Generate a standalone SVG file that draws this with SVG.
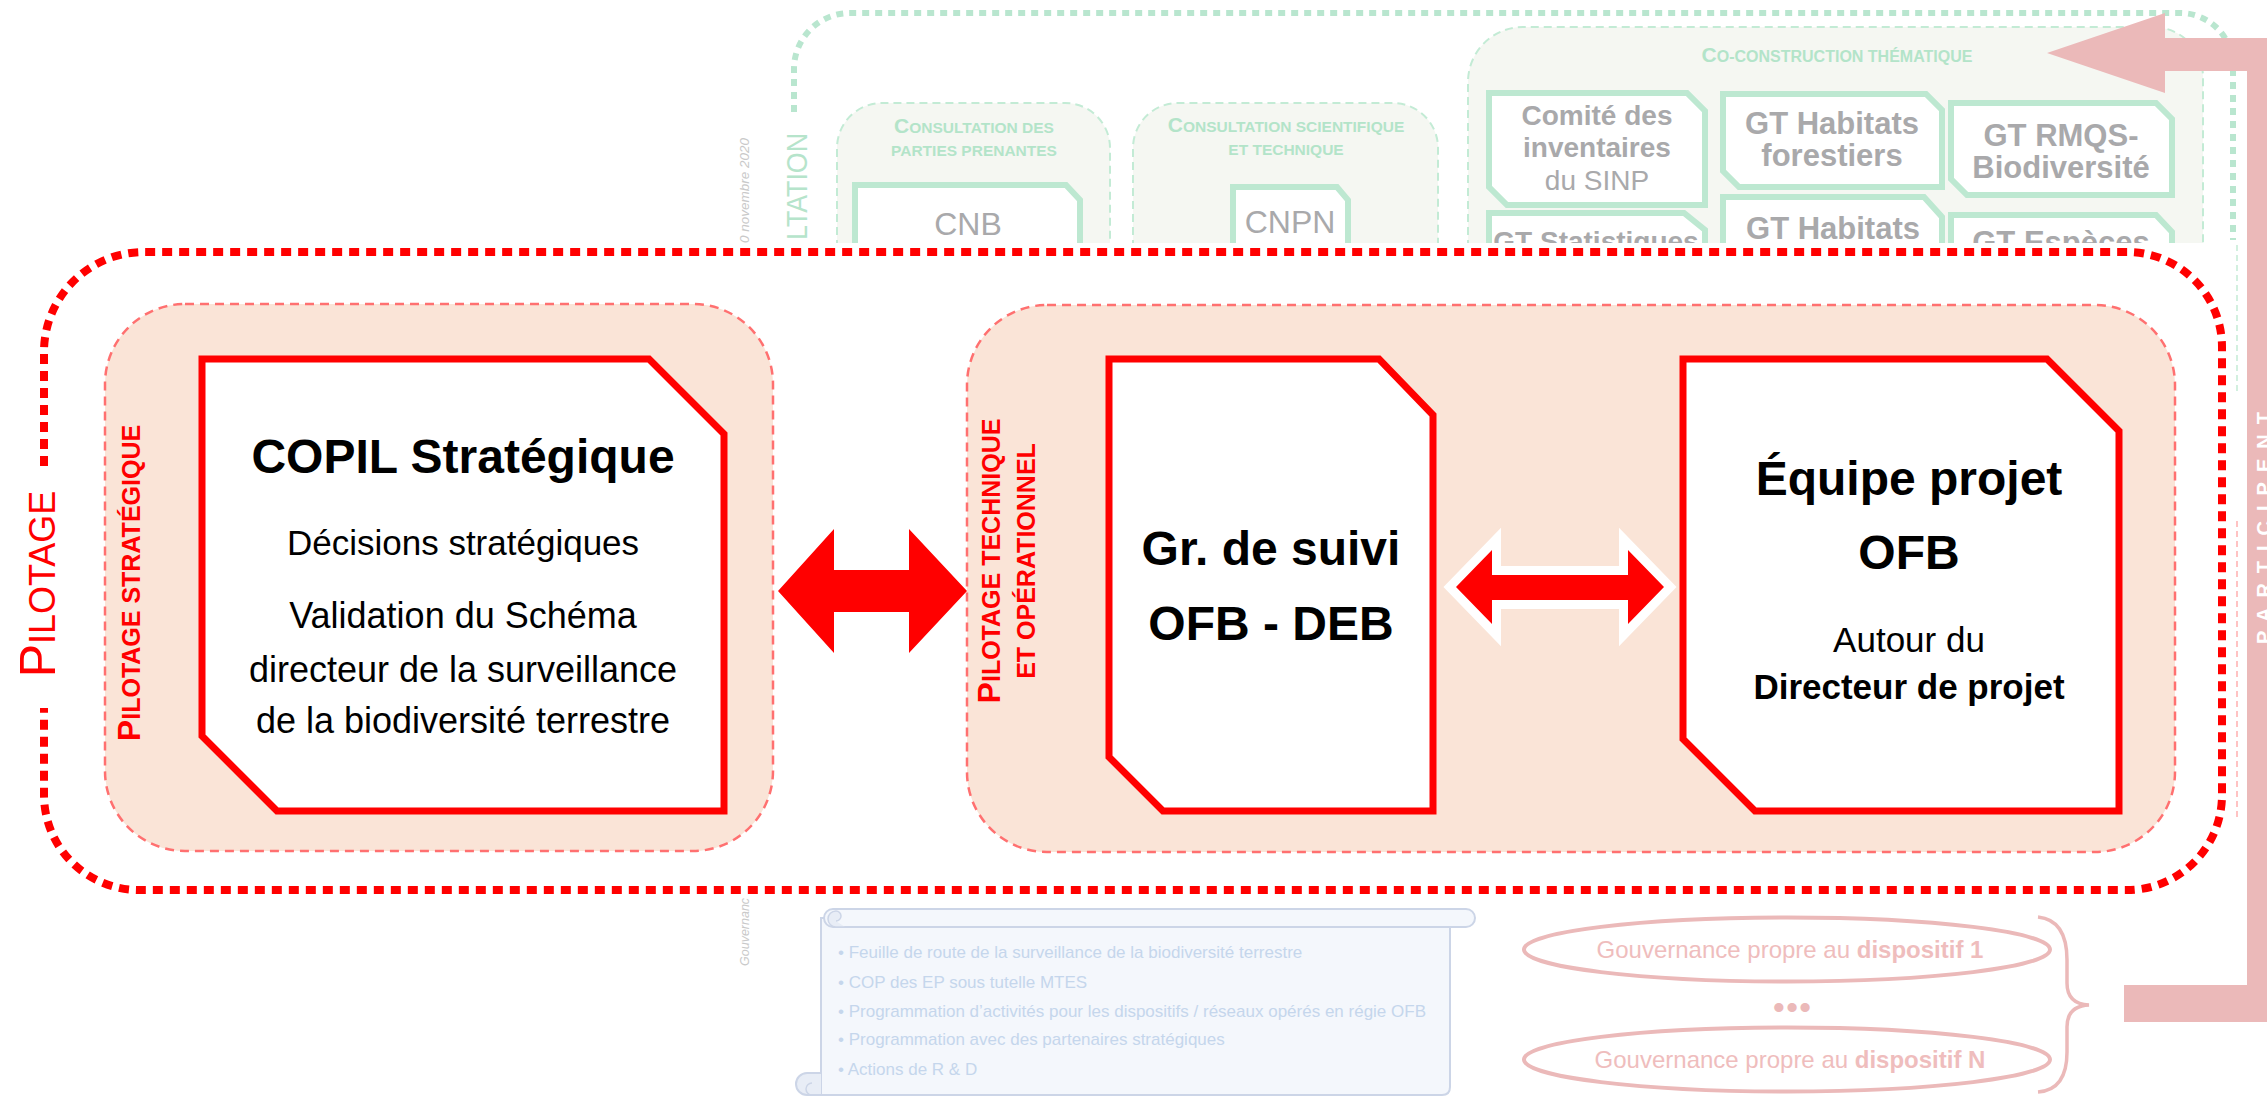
<svg xmlns="http://www.w3.org/2000/svg" width="2267" height="1097" viewBox="0 0 2267 1097">
<defs>
<style>
text{font-family:'Liberation Sans',Arial,sans-serif}
.gcont{fill:#f5f7f2;stroke:#c3ebd5;stroke-width:2;stroke-dasharray:8 5}
.gnode{fill:#fff;stroke:#bde8d1;stroke-width:6;stroke-linejoin:miter}
.gtxt{fill:#a9a9ab;text-anchor:middle}
.gtitle{fill:#b3e4c9;text-anchor:middle;font-weight:bold}
.pcont{fill:#fae4d7;stroke:#ff7070;stroke-width:2.5;stroke-dasharray:9 6}
.rnode{fill:#fff;stroke:#ff0000;stroke-width:7;stroke-linejoin:miter}
.ntxt{fill:#000;text-anchor:middle}
.red{fill:#ff0000}
.pink{fill:#ebb9b9}
.gray{fill:#c9c9c9;font-style:italic}
.btxt{fill:#c5d6ec;font-size:17px}
.ell{fill:none;stroke:#ebb9b9;stroke-width:4}
.etxt{fill:#efbdbd;font-size:24px;text-anchor:middle}
</style>
</defs>
<rect width="2267" height="1097" fill="#fff"/>

<!-- Consultation (faded, upper area) -->
<g id="consultation">
  <path d="M794,112 V70 A56,56 0 0 1 850,13 H2180 A53,53 0 0 1 2233,66 V240" fill="none" stroke="#b9e6cf" stroke-width="6" stroke-dasharray="7 6"/>
  <text transform="translate(807,240) rotate(-90)" font-size="30" fill="#b6e4cb" textLength="107" lengthAdjust="spacingAndGlyphs">LTATION</text>
  <text class="gray" transform="translate(749,243) rotate(-90)" font-size="13.5">0 novembre 2020</text>
</g>
<g id="consult-parties">
  <path class="gcont" d="M837,300 V148 A45,45 0 0 1 882,103 H1065 A45,45 0 0 1 1110,148 V300"/>
  <text class="gtitle" x="974" y="133"><tspan font-size="21">C</tspan><tspan font-size="15.5">ONSULTATION DES</tspan></text>
  <text class="gtitle" x="974" y="156" font-size="15.5">PARTIES PRENANTES</text>
</g>
<g id="cnb">
  <polygon class="gnode" points="855,185 1066,185 1080,200 1080,300 855,300"/>
  <text class="gtxt" x="968" y="235" font-size="32">CNB</text>
</g>
<g id="consult-sci">
  <path class="gcont" d="M1133,300 V148 A45,45 0 0 1 1178,103 H1393 A45,45 0 0 1 1438,148 V300"/>
  <text class="gtitle" x="1286" y="132"><tspan font-size="21">C</tspan><tspan font-size="15.5">ONSULTATION SCIENTIFIQUE</tspan></text>
  <text class="gtitle" x="1286" y="155" font-size="15.5">ET TECHNIQUE</text>
</g>
<g id="cnpn">
  <polygon class="gnode" points="1233,187 1337,187 1348,200 1348,300 1233,300"/>
  <text class="gtxt" x="1290" y="233" font-size="32">CNPN</text>
</g>
<g id="coconstruction">
  <path class="gcont" d="M1468,300 V82 A55,55 0 0 1 1523,27 H2153 A50,50 0 0 1 2203,77 V300"/>
  <text class="gtitle" x="1837" y="62"><tspan font-size="21">C</tspan><tspan font-size="16">O-CONSTRUCTION THÉMATIQUE</tspan></text>
</g>
<g id="comite-sinp">
  <polygon class="gnode" points="1489,93 1687,93 1705,111 1705,205 1507,205 1489,187"/>
  <text class="gtxt" x="1597" y="125" font-size="28" font-weight="bold">Comité des</text>
  <text class="gtxt" x="1597" y="157" font-size="28" font-weight="bold">inventaires</text>
  <text class="gtxt" x="1597" y="190" font-size="28">du SINP</text>
</g>
<g id="gt-habitats-forestiers">
  <polygon class="gnode" points="1723,94 1926,94 1942,110 1942,187 1739,187 1723,171"/>
  <text class="gtxt" x="1832" y="134" font-size="31" font-weight="bold">GT Habitats</text>
  <text class="gtxt" x="1832" y="166" font-size="31" font-weight="bold">forestiers</text>
</g>
<g id="gt-rmqs">
  <polygon class="gnode" points="1951,103 2156,103 2172,119 2172,195 1967,195 1951,179"/>
  <text class="gtxt" x="2061" y="146" font-size="31" font-weight="bold">GT RMQS-</text>
  <text class="gtxt" x="2061" y="178" font-size="31" font-weight="bold">Biodiversité</text>
</g>
<g id="gt-statistiques">
  <polygon class="gnode" points="1489,213 1684,213 1705,230 1705,300 1489,300"/>
  <text class="gtxt" x="1596" y="251" font-size="28" font-weight="bold">GT Statistiques</text>
</g>
<g id="gt-habitats">
  <polygon class="gnode" points="1723,197 1924,197 1942,217 1942,300 1723,300"/>
  <text class="gtxt" x="1833" y="239" font-size="31" font-weight="bold">GT Habitats</text>
</g>
<g id="gt-especes">
  <polygon class="gnode" points="1951,215 2156,215 2172,232 2172,300 1951,300"/>
  <text class="gtxt" x="2061" y="253" font-size="31" font-weight="bold">GT Espèces</text>
</g>

<!-- white overlay on which the pilotage part sits -->
<rect x="0" y="243" width="2236" height="662" fill="#fff"/>
<line x1="2237" y1="245" x2="2237" y2="392" stroke="#c3ebd5" stroke-width="1.5" stroke-dasharray="6 4"/>
<line x1="2237" y1="521" x2="2237" y2="818" stroke="#ffb0b0" stroke-width="1.5" stroke-dasharray="6 4"/>
<text class="gray" transform="translate(749,966) rotate(-90)" font-size="12.5">Gouvernanc</text>

<!-- Pilotage -->
<g id="pilotage">
  <path d="M44,466 V350 A100,100 0 0 1 144,252 H2127 A95,95 0 0 1 2222,347 V795 A95,95 0 0 1 2127,890 H139 A95,95 0 0 1 44,795 V708" fill="none" stroke="#ff0000" stroke-width="8" stroke-dasharray="10 7"/>
  <text class="red" transform="translate(55,584) rotate(-90)" text-anchor="middle"><tspan font-size="50">P</tspan><tspan font-size="36">ILOTAGE</tspan></text>
</g>
<g id="pilotage-strategique">
  <rect class="pcont" x="105" y="304" width="668" height="547" rx="80"/>
  <text class="red" transform="translate(140,583) rotate(-90)" text-anchor="middle" font-weight="bold"><tspan font-size="32">P</tspan><tspan font-size="25">ILOTAGE STRATÉGIQUE</tspan></text>
</g>
<g id="copil">
  <polygon class="rnode" points="202,359 649,359 724,434 724,811 277,811 202,736"/>
  <text class="ntxt" x="463" y="473" font-size="48" font-weight="bold">COPIL Stratégique</text>
  <text class="ntxt" x="463" y="555" font-size="35">Décisions stratégiques</text>
  <text class="ntxt" x="463" y="628" font-size="36">Validation du Schéma</text>
  <text class="ntxt" x="463" y="682" font-size="36">directeur de la surveillance</text>
  <text class="ntxt" x="463" y="733" font-size="36">de la biodiversité terrestre</text>
</g>
<g id="pilotage-technique">
  <rect class="pcont" x="967" y="305" width="1208" height="547" rx="80"/>
  <text class="red" transform="translate(1000,561) rotate(-90)" text-anchor="middle" font-weight="bold"><tspan font-size="32">P</tspan><tspan font-size="25">ILOTAGE TECHNIQUE</tspan></text>
  <text class="red" transform="translate(1035,561) rotate(-90)" text-anchor="middle" font-weight="bold" font-size="25">ET OPÉRATIONNEL</text>
</g>
<g id="gr-suivi">
  <polygon class="rnode" points="1109,359 1379,359 1433,415 1433,811 1163,811 1109,757"/>
  <text class="ntxt" x="1271" y="565" font-size="48" font-weight="bold">Gr. de suivi</text>
  <text class="ntxt" x="1271" y="640" font-size="48" font-weight="bold">OFB - DEB</text>
</g>
<g id="equipe-projet">
  <polygon class="rnode" points="1683,359 2047,359 2119,431 2119,811 1755,811 1683,739"/>
  <text class="ntxt" x="1909" y="495" font-size="48" font-weight="bold">Équipe projet</text>
  <text class="ntxt" x="1909" y="569" font-size="48" font-weight="bold">OFB</text>
  <text class="ntxt" x="1909" y="652" font-size="35">Autour du</text>
  <text class="ntxt" x="1909" y="699" font-size="35" font-weight="bold">Directeur de projet</text>
</g>

<!-- connectors -->
<g id="connectors">
  <polygon fill="#ff0000" points="778,591 834,529 834,570 909,570 909,529 967,591 909,653 909,612 834,612 834,653"/>
  <polygon fill="#ff0000" stroke="#fff" stroke-width="18" stroke-linejoin="miter" stroke-miterlimit="4" paint-order="stroke" points="1456,587 1492,550 1492,575 1628,575 1628,550 1664,587 1628,624 1628,600 1492,600 1492,624"/>
</g>

<!-- Participent arrow -->
<g id="participent">
  <path class="pink" d="M2047,53 L2165,13 L2165,38 L2285,38 L2285,1022 L2124,1022 L2124,985 L2247,985 L2247,71 L2165,71 L2165,93 Z"/>
  <text transform="translate(2271,523) rotate(-90)" text-anchor="middle" font-size="20" font-weight="bold" letter-spacing="10" fill="#fff">PARTICIPENT</text>
</g>

<!-- scroll -->
<g id="feuille-de-route">
  <path d="M821,918 H1450 V1087 Q1450,1095 1442,1095 H821 Z" fill="#f4f7fc" stroke="#ccd5e7" stroke-width="2"/>
  <path d="M821,1073 H807 A11,11 0 0 0 807,1095 H821" fill="#e8edf6" stroke="#ccd5e7" stroke-width="2"/>
  <path d="M812,1095 A6,6 0 0 1 812,1083" fill="none" stroke="#ccd5e7" stroke-width="1.5"/>
  <rect x="824" y="909" width="651" height="18" rx="9" fill="#f4f7fc" stroke="#ccd5e7" stroke-width="2"/>
  <path d="M845,927 H836 A8,8 0 0 1 836,911 A5,5 0 0 1 836,921" fill="#e8edf6" stroke="#ccd5e7" stroke-width="1.5"/>
  <text class="btxt" x="838" y="958">• Feuille de route de la surveillance de la biodiversité terrestre</text>
  <text class="btxt" x="838" y="988">• COP des EP sous tutelle MTES</text>
  <text class="btxt" x="838" y="1017">• Programmation d’activités pour les dispositifs / réseaux opérés en régie OFB</text>
  <text class="btxt" x="838" y="1045">• Programmation avec des partenaires stratégiques</text>
  <text class="btxt" x="838" y="1075">• Actions de R &amp; D</text>
</g>

<!-- gouvernance propre -->
<g id="gouvernance-1">
  <ellipse class="ell" cx="1787" cy="949.5" rx="263" ry="32"/>
  <text class="etxt" x="1790" y="958">Gouvernance propre au <tspan font-weight="bold">dispositif 1</tspan></text>
</g>
<g id="gouvernance-etc">
  <text x="1793" y="1018" font-size="32" font-weight="bold" fill="#ebb9b9" text-anchor="middle" letter-spacing="2">•••</text>
</g>
<g id="gouvernance-n">
  <ellipse class="ell" cx="1787" cy="1059.5" rx="263" ry="32"/>
  <text class="etxt" x="1790" y="1068">Gouvernance propre au <tspan font-weight="bold">dispositif N</tspan></text>
</g>
<g id="accolade">
  <path d="M2038,917 Q2067,920 2067,960 V983 Q2067,1004 2089,1005 Q2067,1006 2067,1027 V1052 Q2067,1090 2038,1092" fill="none" stroke="#ebb9b9" stroke-width="3.5"/>
</g>
</svg>
